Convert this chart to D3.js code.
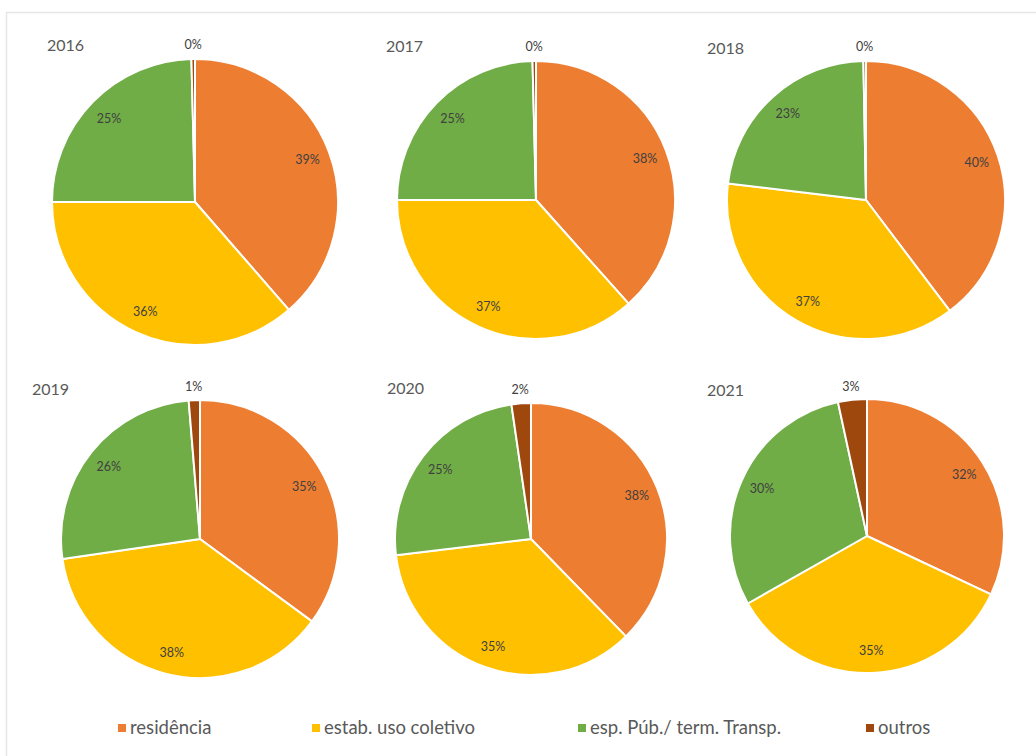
<!DOCTYPE html>
<html>
<head>
<meta charset="utf-8">
<script src="https://cdn.jsdelivr.net/npm/d3@7"></script>
<style>
  html, body { margin: 0; padding: 0; background: #fff; }
  svg { display: block; font-family: Lato, "Liberation Sans", sans-serif; }
</style>
</head>
<body>
<div id="chart"></div>
<script>
// categories and colours
const categories = ["residência", "estab. uso coletivo", "esp. Púb./ term. Transp.", "outros"];
const colors = ["#ED7D31", "#FFC000", "#70AD47", "#9E480E"];

// one small array per year (percent shares, clockwise from 12 o'clock)
const years = ["2016", "2017", "2018", "2019", "2020", "2021"];
const v2016 = [38.6, 36.4, 24.6, 0.4];
const v2017 = [38.4, 36.6, 24.6, 0.4];
const v2018 = [39.7, 37.2, 22.8, 0.3];
const v2019 = [35.1, 37.6, 26.0, 1.3];
const v2020 = [37.7, 35.4, 24.6, 2.3];
const v2021 = [32.0, 34.8, 29.8, 3.4];
const values = [v2016, v2017, v2018, v2019, v2020, v2021];

// layout of each pie (centre, radius, title position)
const layout = [
  { cx: 195, cy: 202, r: 143, tx: 47,  ty: 51 },
  { cx: 536, cy: 200, r: 139, tx: 386, ty: 52 },
  { cx: 866, cy: 200, r: 139, tx: 707, ty: 54 },
  { cx: 200, cy: 539, r: 139, tx: 32,  ty: 395 },
  { cx: 531, cy: 539, r: 136, tx: 387, ty: 394 },
  { cx: 867, cy: 536, r: 137, tx: 707, ty: 396 }
];

const width = 1036, height = 756;
const svg = d3.select("#chart").append("svg")
  .attr("width", width)
  .attr("height", height);

// chart area border
svg.append("rect")
  .attr("x", 6.5).attr("y", 12.5)
  .attr("width", 1040).attr("height", 760)
  .attr("fill", "none")
  .attr("stroke", "#e6e6e6")
  .attr("stroke-width", 1.5);

const pie = d3.pie().sort(null).value(d => d);
const color = d3.scaleOrdinal().domain(d3.range(categories.length)).range(colors);

years.forEach((year, i) => {
  const L = layout[i];
  const arcs = pie(values[i]);
  const arc = d3.arc().innerRadius(0).outerRadius(L.r);
  const g = svg.append("g").attr("transform", `translate(${L.cx},${L.cy})`);

  g.selectAll("path")
    .data(arcs)
    .enter()
    .append("path")
    .attr("d", arc)
    .attr("fill", (d, j) => color(j))
    .attr("stroke", "#fff")
    .attr("stroke-width", 2)
    .attr("stroke-linejoin", "round");

  // data labels: inside for large slices, just outside for tiny ones
  g.selectAll("text")
    .data(arcs)
    .enter()
    .append("text")
    .attr("transform", d => {
      const a = (d.startAngle + d.endAngle) / 2;
      const k = d.data < 5 ? 1.1 : 0.84;
      return `translate(${Math.sin(a) * L.r * k},${-Math.cos(a) * L.r * k})`;
    })
    .attr("text-anchor", "middle")
    .attr("dy", "0.35em")
    .attr("font-size", 12.5)
    .attr("fill", "#404040")
    .text(d => Math.round(d.data) + "%");

  svg.append("text")
    .attr("x", L.tx)
    .attr("y", L.ty)
    .attr("font-size", 16)
    .attr("fill", "#595959")
    .text(year);
});

// legend
const legendX = [118, 312, 578, 866];
const legend = svg.append("g").attr("transform", "translate(0,728)");
categories.forEach((c, i) => {
  legend.append("rect")
    .attr("x", legendX[i]).attr("y", -4)
    .attr("width", 8).attr("height", 8)
    .attr("fill", colors[i]);
  legend.append("text")
    .attr("x", legendX[i] + 12)
    .attr("y", 0)
    .attr("dy", "0.35em")
    .attr("font-size", 18.5)
    .attr("fill", "#595959")
    .text(c);
});
</script>
</body>
</html>
